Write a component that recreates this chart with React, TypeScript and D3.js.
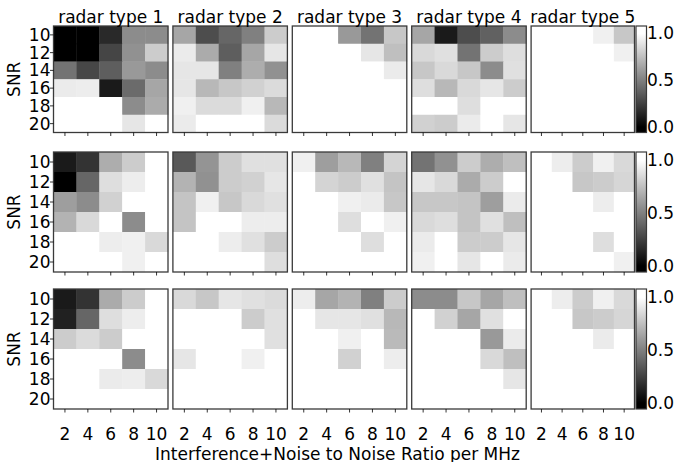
import React from "react";
import * as d3 from "d3";

// axis categories
const snrLevels = [10, 12, 14, 16, 18, 20];
const inrLevels = [2, 4, 6, 8, 10];
const radarTypes = ["radar type 1", "radar type 2", "radar type 3", "radar type 4", "radar type 5"];
const cbarTicks = [0, 0.5, 1];

// each panel: rows = SNR 10..20, cols = INR 2..10
const topRow = [
  [
    [0, 0, 0.16, 0.55, 0.55],
    [0, 0, 0.27, 0.57, 0.8],
    [0.45, 0.28, 0.37, 0.6, 0.55],
    [0.92, 0.93, 0.1, 0.42, 0.65],
    [1, 1, 1, 0.55, 0.67],
    [1, 1, 1, 0.9, 1],
  ],
  [
    [0.65, 0.3, 0.4, 0.5, 0.8],
    [0.92, 0.67, 0.37, 0.65, 0.9],
    [0.9, 0.9, 0.5, 0.68, 0.57],
    [0.9, 0.72, 0.78, 0.82, 0.86],
    [0.94, 0.86, 0.86, 0.94, 0.72],
    [0.92, 1, 1, 1, 0.86],
  ],
  [
    [1, 1, 0.6, 0.45, 0.78],
    [1, 1, 1, 0.9, 0.75],
    [1, 1, 1, 1, 0.92],
    [1, 1, 1, 1, 1],
    [1, 1, 1, 1, 1],
    [1, 1, 1, 1, 1],
  ],
  [
    [0.65, 0.1, 0.3, 0.38, 0.55],
    [0.85, 0.88, 0.45, 0.8, 0.87],
    [0.78, 0.85, 0.78, 0.55, 0.88],
    [0.87, 0.72, 0.85, 0.9, 0.8],
    [1, 1, 0.87, 1, 1],
    [0.82, 0.8, 0.92, 1, 0.9],
  ],
  [
    [1, 1, 1, 0.94, 0.78],
    [1, 1, 1, 1, 0.94],
    [1, 1, 1, 1, 1],
    [1, 1, 1, 1, 1],
    [1, 1, 1, 1, 1],
    [1, 1, 1, 1, 1],
  ],
];

const middleRow = [
  [
    [0.1, 0.2, 0.68, 0.8, 1],
    [0, 0.4, 0.87, 0.93, 1],
    [0.62, 0.55, 0.82, 1, 1],
    [0.7, 0.85, 1, 0.55, 1],
    [1, 1, 0.93, 0.94, 0.85],
    [1, 1, 1, 0.94, 1],
  ],
  [
    [0.35, 0.58, 0.8, 0.88, 0.88],
    [0.7, 0.57, 0.8, 0.82, 0.9],
    [0.77, 0.94, 0.78, 0.85, 0.88],
    [0.77, 1, 1, 0.93, 0.93],
    [1, 1, 0.93, 0.88, 0.8],
    [1, 1, 1, 1, 0.87],
  ],
  [
    [0.94, 0.62, 0.72, 0.5, 0.83],
    [1, 0.83, 0.8, 0.88, 0.77],
    [1, 1, 0.94, 0.92, 0.78],
    [1, 1, 0.87, 1, 0.94],
    [1, 1, 1, 0.87, 1],
    [1, 1, 1, 1, 1],
  ],
  [
    [0.45, 0.57, 0.8, 0.68, 0.75],
    [0.9, 0.85, 0.67, 0.8, 1],
    [0.78, 0.78, 0.77, 0.62, 0.92],
    [0.85, 0.87, 0.77, 0.88, 0.75],
    [0.92, 1, 0.8, 0.8, 0.9],
    [0.94, 1, 0.9, 1, 0.92],
  ],
  [
    [1, 0.93, 0.8, 0.94, 0.85],
    [1, 1, 0.78, 0.8, 0.84],
    [1, 1, 1, 0.93, 1],
    [1, 1, 1, 1, 1],
    [1, 1, 1, 0.87, 1],
    [1, 1, 1, 1, 0.94],
  ],
];

const bottomRow = [
  [
    [0.1, 0.2, 0.67, 0.8, 1],
    [0.13, 0.4, 0.87, 0.93, 1],
    [0.8, 0.86, 0.8, 1, 1],
    [1, 1, 1, 0.55, 1],
    [1, 1, 0.92, 0.93, 0.85],
    [1, 1, 1, 1, 1],
  ],
  [
    [0.85, 0.78, 0.9, 0.88, 0.86],
    [1, 1, 1, 0.8, 0.88],
    [1, 1, 1, 1, 0.88],
    [0.9, 1, 1, 0.94, 1],
    [1, 1, 1, 1, 1],
    [1, 1, 1, 1, 1],
  ],
  [
    [0.93, 0.65, 0.7, 0.5, 0.8],
    [1, 0.9, 0.9, 0.88, 0.72],
    [1, 1, 0.94, 1, 0.73],
    [1, 1, 0.82, 1, 0.93],
    [1, 1, 1, 1, 1],
    [1, 1, 1, 1, 1],
  ],
  [
    [0.55, 0.55, 0.78, 0.65, 0.75],
    [1, 0.82, 0.65, 0.88, 1],
    [1, 1, 1, 0.6, 0.92],
    [1, 1, 1, 0.85, 0.75],
    [1, 1, 1, 1, 0.9],
    [1, 1, 1, 1, 1],
  ],
  [
    [1, 0.93, 0.8, 0.94, 0.85],
    [1, 1, 0.78, 0.8, 0.84],
    [1, 1, 1, 0.92, 1],
    [1, 1, 1, 1, 1],
    [1, 1, 1, 1, 1],
    [1, 1, 1, 1, 1],
  ],
];

const rows = [topRow, middleRow, bottomRow];

const W = 675;
const H = 462;
const FONT = "DejaVu Sans, sans-serif";
const FS = 17;
const rowTops = [26, 152, 289];
const rowHeights = [106.5, 120, 120];
const colLefts = [53.5, 172.9, 292.3, 411.7, 531.1];
const colWidths = [114.5, 114.5, 114.5, 114.5, 103.4];
const cbarX = 636;
const cbarW = 10.5;
const frame = "#3a3a3a";

const gray = d3.scaleLinear<string>().domain([0, 1]).range(["#000000", "#ffffff"]).clamp(true);

const Panel = ({ data, r, c }: { data: number[][]; r: number; c: number }) => {
  const x0 = colLefts[c];
  const y0 = rowTops[r];
  const w = colWidths[c];
  const h = rowHeights[r];
  const xs = d3.scaleBand<number>().domain(inrLevels).range([x0, x0 + w]);
  const ys = d3.scaleBand<number>().domain(snrLevels).range([y0, y0 + h]);
  return (
    <g>
      {data.map((row, i) =>
        row.map((v, j) => (
          <rect
            key={`${i}-${j}`}
            x={xs(inrLevels[j])}
            y={ys(snrLevels[i])}
            width={xs.bandwidth() + 0.4}
            height={ys.bandwidth() + 0.4}
            fill={gray(v)}
          />
        ))
      )}
      <rect x={x0} y={y0} width={w} height={h} fill="none" stroke={frame} strokeWidth={1.3} />
      {inrLevels.map((d) => (
        <g key={d}>
          <line
            x1={xs(d)! + xs.bandwidth() / 2}
            x2={xs(d)! + xs.bandwidth() / 2}
            y1={y0 + h}
            y2={y0 + h + 3.5}
            stroke="#000"
            strokeWidth={0.8}
          />
          {r === 2 && (
            <text
              x={xs(d)! + xs.bandwidth() / 2}
              y={y0 + h + 30.5}
              textAnchor="middle"
              fontSize={FS}
              fontFamily={FONT}
            >
              {d}
            </text>
          )}
        </g>
      ))}
      {c === 0 &&
        snrLevels.map((d) => (
          <g key={d}>
            <line
              x1={x0 - 3.5}
              x2={x0}
              y1={ys(d)! + ys.bandwidth() / 2}
              y2={ys(d)! + ys.bandwidth() / 2}
              stroke="#000"
              strokeWidth={0.8}
            />
            <text
              x={x0 - 3}
              y={ys(d)! + ys.bandwidth() / 2}
              textAnchor="end"
              dominantBaseline="central"
              fontSize={FS}
              fontFamily={FONT}
            >
              {d}
            </text>
          </g>
        ))}
      {c === 0 && (
        <text
          transform={`translate(19.5,${y0 + h / 2}) rotate(-90)`}
          textAnchor="middle"
          fontSize={FS}
          fontFamily={FONT}
        >
          SNR
        </text>
      )}
      {r === 0 && (
        <text x={x0 + w / 2} y={22.5} textAnchor="middle" fontSize={FS} fontFamily={FONT}>
          {radarTypes[c]}
        </text>
      )}
    </g>
  );
};

const Colorbar = ({ r }: { r: number }) => {
  const y0 = rowTops[r];
  const h = rowHeights[r];
  const cy = d3.scaleLinear().domain([-0.06, 1.08]).range([y0 + h, y0]);
  return (
    <g>
      <rect x={cbarX} y={y0} width={cbarW} height={h} fill="url(#cbarGrad)" />
      <rect x={cbarX} y={y0} width={cbarW} height={h} fill="none" stroke={frame} strokeWidth={1.2} />
      {cbarTicks.map((t) => (
        <text
          key={t}
          x={cbarX + cbarW + 0.5}
          y={cy(t)}
          dominantBaseline="central"
          fontSize={FS}
          fontFamily={FONT}
        >
          {t.toFixed(1)}
        </text>
      ))}
    </g>
  );
};

export default function App() {
  return (
    <svg
      width={W}
      height={H}
      style={{ position: "absolute", left: 0, top: 0, background: "#fff" }}
    >
      <defs>
        <linearGradient id="cbarGrad" x1="0" y1="1" x2="0" y2="0">
          <stop offset="0%" stopColor="#000" />
          <stop offset="5%" stopColor="#000" />
          <stop offset="93%" stopColor="#fff" />
          <stop offset="100%" stopColor="#fff" />
        </linearGradient>
      </defs>
      {rows.map((panels, r) =>
        panels.map((data, c) => <Panel key={`${r}-${c}`} data={data} r={r} c={c} />)
      )}
      {rows.map((_, r) => (
        <Colorbar key={r} r={r} />
      ))}
      <text x={W / 2} y={459.5} textAnchor="middle" fontSize={FS} fontFamily={FONT}>
        Interference+Noise to Noise Ratio per MHz
      </text>
    </svg>
  );
}
